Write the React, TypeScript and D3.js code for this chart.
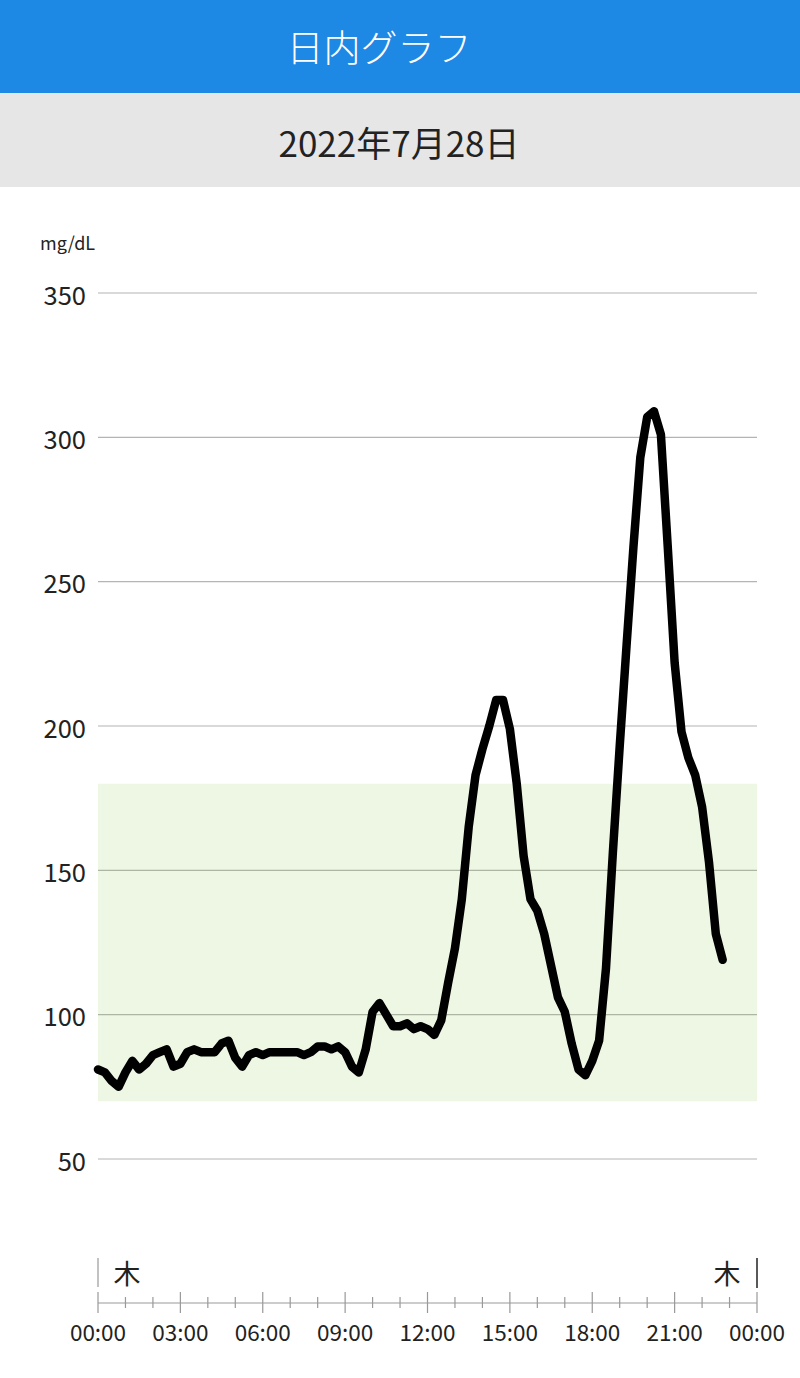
import React from "react";
import * as d3 from "d3";

const title = "日内グラフ";
const dateLabel = "2022年7月28日";
const unitLabel = "mg/dL";
const dayLabel = "木";

const yTicks = [50, 100, 150, 200, 250, 300, 350];
const xTickHours = [0, 3, 6, 9, 12, 15, 18, 21, 24];
const xTickLabels = ["00:00", "03:00", "06:00", "09:00", "12:00", "15:00", "18:00", "21:00", "00:00"];
const targetRange = [70, 180];
const sampleMinutes = 15;

// glucose readings every 15 minutes from 00:00 to 22:45
const glucose = [
  81, 80, 77, 75, 80, 84, 81, 83, 86, 87,
  88, 82, 83, 87, 88, 87, 87, 87, 90, 91,
  85, 82, 86, 87, 86, 87, 87, 87, 87, 87,
  86, 87, 89, 89, 88, 89, 87, 82, 80, 88,
  101, 104, 100, 96, 96, 97, 95, 96, 95, 93,
  98, 111, 123, 140, 165, 183, 192, 200, 209, 209,
  199, 180, 155, 140, 136, 128, 117, 106, 101, 90,
  81, 79, 84, 91, 116, 156, 193, 228, 262, 293,
  307, 309, 301, 262, 222, 198, 189, 183, 172, 153,
  128, 119,
];

const W = 800;
const H = 1378;
const FONT = "'Noto Sans CJK JP', 'Noto Sans', sans-serif";

export default function App() {
  const x = d3.scaleLinear().domain([0, 24]).range([98, 757]);
  const y = d3.scaleLinear().domain([50, 350]).range([1159, 293]);
  const axisY = 1303;

  const pts = glucose.map((v, i) => ({ h: (i * sampleMinutes) / 60, v }));
  const line = d3
    .line<{ h: number; v: number }>()
    .x((d) => x(d.h))
    .y((d) => y(d.v));

  const hourTicks = d3.range(0, 25);

  return (
    <div style={{ position: "absolute", left: 0, top: 0 }}>
      <svg width={W} height={H} style={{ display: "block", fontFamily: FONT }}>
        <rect x={0} y={0} width={W} height={H} fill="#ffffff" />
        <rect x={0} y={0} width={W} height={93} fill="#1e88e5" />
        <text x={379} y={46} fill="#ffffff" fontSize={37} fontWeight={300} textAnchor="middle" dominantBaseline="central">
          {title}
        </text>
        <rect x={0} y={93} width={W} height={94} fill="#e6e6e6" />
        <text x={399} y={141} fill="#222222" fontSize={35} textAnchor="middle" dominantBaseline="central">
          {dateLabel}
        </text>

        <text x={40} y={242} fontSize={18} fill="#222" dominantBaseline="central">
          {unitLabel}
        </text>

        {yTicks.map((t) => (
          <g key={t}>
            <line x1={x(0)} x2={x(24)} y1={y(t)} y2={y(t)} stroke="#b4b4b4" strokeWidth={1.2} />
            <text x={86} y={y(t)} fontSize={25.5} fill="#222" textAnchor="end" dominantBaseline="central">
              {t}
            </text>
          </g>
        ))}

        <rect
          x={x(0)}
          y={y(targetRange[1])}
          width={x(24) - x(0)}
          height={y(targetRange[0]) - y(targetRange[1])}
          fill="rgb(125,195,60)"
          fillOpacity={0.14}
        />

        <path
          d={line(pts) || ""}
          fill="none"
          stroke="#000"
          strokeWidth={8.5}
          strokeLinejoin="round"
          strokeLinecap="round"
        />

        {/* day markers */}
        <line x1={x(0)} x2={x(0)} y1={1258} y2={1287} stroke="#999" strokeWidth={1.2} />
        <text x={x(0) + 29} y={1272} fontSize={27} fill="#222" textAnchor="middle" dominantBaseline="central">
          {dayLabel}
        </text>
        <line x1={x(24)} x2={x(24)} y1={1258} y2={1288} stroke="#222" strokeWidth={1.5} />
        <text x={x(24) - 30} y={1272} fontSize={27} fill="#222" textAnchor="middle" dominantBaseline="central">
          {dayLabel}
        </text>

        {/* x axis */}
        <line x1={x(0)} x2={x(24)} y1={axisY} y2={axisY} stroke="#999" strokeWidth={1.2} />
        {hourTicks.map((h) => {
          const major = h % 3 === 0;
          return (
            <line
              key={h}
              x1={x(h)}
              x2={x(h)}
              y1={major ? axisY - 11 : axisY - 6}
              y2={major ? axisY + 10 : axisY + 5}
              stroke="#999"
              strokeWidth={1.2}
            />
          );
        })}
        {xTickHours.map((h, i) => (
          <text key={i} x={x(h)} y={1331} fontSize={22.5} fill="#222" textAnchor="middle" dominantBaseline="central">
            {xTickLabels[i]}
          </text>
        ))}
      </svg>
    </div>
  );
}
